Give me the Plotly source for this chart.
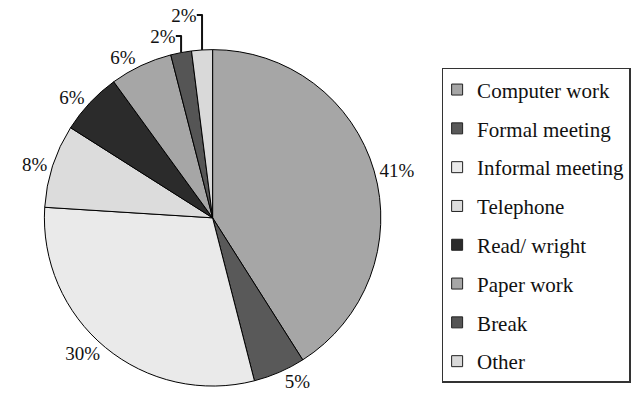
import plotly.graph_objects as go

categories = ["Computer work", "Formal meeting", "Informal meeting", "Telephone",
              "Read/ wright", "Paper work", "Break", "Other"]
values = [41, 5, 30, 8, 6, 6, 2, 2]
colors = ["#a6a6a6", "#595959", "#eaeaea", "#dcdcdc",
          "#2b2b2b", "#a6a6a6", "#555555", "#d9d9d9"]

W, H = 636, 408
FONT = "Liberation Serif"

fig = go.Figure()
fig.add_trace(go.Pie(
    labels=categories, values=values, sort=False, direction="clockwise",
    rotation=0,
    marker=dict(colors=colors, line=dict(color="#000000", width=1)),
    textposition="outside", texttemplate="%{value}%",
    textfont=dict(family=FONT, size=19, color="#111111"),
    domain=dict(x=[12 / W, 380 / W], y=[1 - 384 / H, 1 - 16 / H]),
    showlegend=False, hoverinfo="label+percent",
))

# legend entries (one per category)
for i, (c, col) in enumerate(zip(categories, colors)):
    fig.add_trace(go.Scatter(
        x=[None], y=[None], mode="markers", name=c, legendgroup=f"g{i}",
        marker=dict(symbol="square", size=11, color=col,
                    line=dict(color="#222222", width=1)),
        showlegend=True,
    ))

fig.update_layout(
    width=W, height=H, margin=dict(l=0, r=0, t=0, b=0),
    paper_bgcolor="white", plot_bgcolor="white",
    xaxis=dict(visible=False), yaxis=dict(visible=False),
    legend=dict(
        x=434 / W, y=1 - 36 / H, xanchor="left", yanchor="top",
        font=dict(family=FONT, size=21, color="#111111"),
        bordercolor="#333333", borderwidth=1.5, bgcolor="white",
        tracegroupgap=8.5, itemwidth=30, indentation=-6,
    ),
)

fig.write_html("out.html", config={"displayModeBar": False},
               post_script="document.body.style.margin='0';")
